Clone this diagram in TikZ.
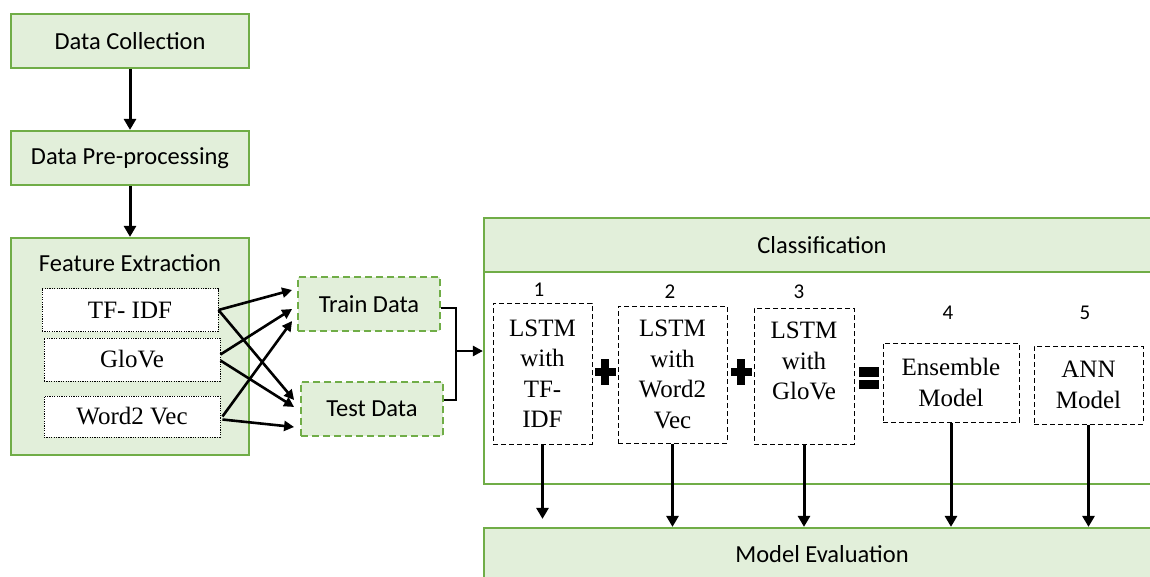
\documentclass[tikz,border=0pt]{standalone}
\usepackage{fontspec}
\setmainfont{Liberation Serif}
\newfontfamily\calibfont{Carlito}
\usetikzlibrary{arrows.meta, positioning, calc}
\definecolor{leafgreen}{HTML}{70AD47}
\definecolor{palegreen}{HTML}{E2EFDA}
\tikzset{
    stage/.style={rectangle, draw=leafgreen, fill=palegreen, line width=2.2pt,
                  align=center, font=\calibfont\fontsize{24.5}{28}\selectfont, inner sep=0pt},
    stagetext/.style={font=\calibfont\fontsize{24.5}{28}\selectfont, inner sep=0pt},
    featbox/.style={rectangle, draw, dash pattern=on 1.2pt off 1.2pt, line width=0.9pt,
                    fill=white, align=center, font=\fontsize{25}{30.5}\selectfont, inner sep=0pt},
    splitbox/.style={rectangle, draw=leafgreen, fill=palegreen, dash pattern=on 7pt off 4pt,
                     line width=1.8pt, font=\calibfont\fontsize{24.5}{28}\selectfont,
                     minimum width=142pt, minimum height=54pt, inner sep=0pt},
    modelbox/.style={rectangle, draw, dash pattern=on 5pt off 3pt, line width=1pt,
                     align=center, font=\fontsize{25}{30.5}\selectfont, inner sep=0pt},
    numlbl/.style={font=\calibfont\fontsize{21}{24}\selectfont, inner sep=0pt},
    arrow/.style={-{Triangle[length=11pt, width=12pt]}, line width=3pt},
    thinarrow/.style={-{Triangle[length=10pt, width=10pt]}, line width=2.6pt},
}
\newcommand{\plusmark}[2]{%
    \fill (#1-10.5,#2-4) rectangle (#1+10.5,#2+4);
    \fill (#1-4,#2-13) rectangle (#1+4,#2+13);
}
\newcommand{\equalsmark}[2]{%
    \fill (#1-10,#2-12) rectangle (#1+10,#2-2);
    \fill (#1-10,#2+1) rectangle (#1+10,#2+10);
}

\begin{document}
\begin{tikzpicture}[x=1pt, y=-1pt]
    \useasboundingbox (0,0) rectangle (1150,577);

    % Preparation steps (left column)
    \node[stage, minimum width=238pt, minimum height=54pt] at (130,41) (collect) {Data Collection};
    \node[stage, minimum width=238pt, minimum height=54pt] at (130,158) (prep) {Data Pre-processing};
    \node[stage, minimum width=238pt, minimum height=217pt] at (130,346.5) (feat) {};
    \node[stagetext] at (130,263) (feattitle) {Feature Extraction};

    % Embeddings inside feature extraction
    \node[featbox, minimum width=176pt, minimum height=43pt] at (130,310) (tfidf) {TF- IDF};
    \node[featbox, minimum width=176pt, minimum height=43pt] at (132,359.5) (glove) {GloVe};
    \node[featbox, minimum width=176pt, minimum height=41pt] at (132,416.5) (wordvec) {Word2 Vec};

    % Data split
    \node[splitbox] at (369,304) (train) {Train Data};
    \node[splitbox] at (372,409) (test) {Test Data};

    % Classification block
    \node[stage, fill=white, minimum width=676pt, minimum height=266pt] at (822,351) (cls) {};
    \node[stage, minimum width=676pt, minimum height=54pt] at (822,245) (clshead) {Classification};

    % Models
    \node[modelbox, minimum width=99pt, minimum height=141pt] at (542.5,373.5) (lstmtfidf) {LSTM\\with\\TF-\\IDF};
    \node[modelbox, minimum width=109pt, minimum height=137pt] at (672.5,374.5) (lstmw2v) {LSTM\\with\\Word2\\Vec};
    \node[modelbox, minimum width=100pt, minimum height=136pt] at (804,376) (lstmglove) {LSTM\\with\\GloVe\\\mbox{}};
    \node[modelbox, minimum width=136pt, minimum height=79pt] at (951,382.5) (ensemble) {Ensemble\\Model};
    \node[modelbox, minimum width=109pt, minimum height=78pt] at (1088.5,385) (ann) {ANN\\Model};

    % Model numbers
    \node[numlbl] at (539,290) (n1) {1};
    \node[numlbl] at (670,292) (n2) {2};
    \node[numlbl] at (799,292) (n3) {3};
    \node[numlbl] at (948,313) (n4) {4};
    \node[numlbl] at (1085,313) (n5) {5};

    \plusmark{605}{372}
    \plusmark{741}{372}
    \equalsmark{869}{379}

    % Evaluation
    \node[stage, minimum width=676pt, minimum height=52pt] at (822,554) (eval) {Model Evaluation};

    % Pipeline arrows
    \draw[arrow] (collect) -- (prep);
    \draw[arrow] (prep) -- (feat);

    % Embeddings to splits
    \draw[thinarrow] (tfidf.east) -- ($(train.west)+(-5,-14)$);
    \draw[thinarrow] (tfidf.east) -- ($(test.west)+(-6,-9)$);
    \draw[thinarrow] ($(glove.east)+(0,-5)$) -- ($(train.west)+(-5,5)$);
    \draw[thinarrow] ($(glove.east)+(0,1)$) -- ($(test.west)+(-6,-2)$);
    \draw[thinarrow] ($(wordvec.east)+(2,0)$) -- ($(train.west)+(-5,17)$);
    \draw[thinarrow] ($(wordvec.east)+(2,3)$) -- ($(test.west)+(-6,18)$);

    % Splits joined into classification
    \coordinate (merge) at (456,351);
    \draw[line width=2.6pt] ($(train.east)+(0,4)$) -| (merge) |- ($(test.east)+(0,-9)$);
    \draw[thinarrow] (merge) -- (cls.west);

    % Models to evaluation
    \coordinate (short) at ($(lstmtfidf.south |- eval.north)+(0,-8)$);
    \draw[arrow] (lstmtfidf.south) -- (short);
    \foreach \m in {lstmw2v, lstmglove, ensemble, ann}
        \draw[arrow] (\m.south) -- (\m.south |- eval.north);

\end{tikzpicture}
\end{document}
